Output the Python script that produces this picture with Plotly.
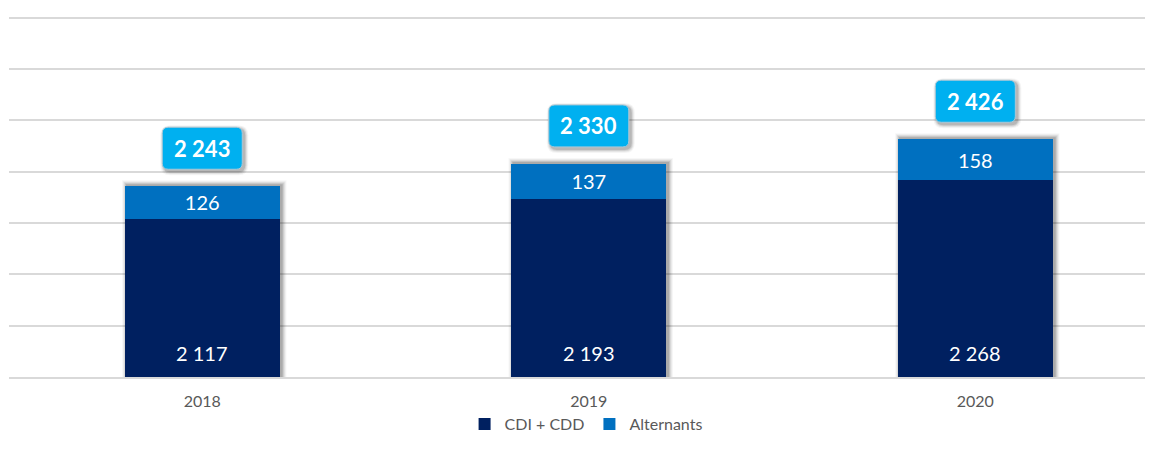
import plotly.graph_objs as go

# Chart data
years = ['2018', '2019', '2020']
cdi_cdd = [2117, 2193, 2268]
alternants = [126, 137, 158]
totals = [2243, 2330, 2426]

y_min, y_max, y_step = 1500, 2910, 200
bar_width = 0.4

navy = '#002060'
blue = '#0070C0'
cyan = '#00B0F0'
font = 'Lato'


def fmt(v):
    return f"{v:,}".replace(',', ' ')


fig = go.Figure()

fig.add_trace(go.Bar(
    x=years, y=cdi_cdd, name='CDI + CDD',
    marker=dict(color=navy, line=dict(width=0)),
    width=bar_width,
))
fig.add_trace(go.Bar(
    x=years, y=alternants, name='Alternants',
    marker=dict(color=blue, line=dict(width=0)),
    width=bar_width,
    text=[fmt(v) for v in alternants],
    textposition='inside', insidetextanchor='middle', textangle=0,
    textfont=dict(family=font, size=20, color='white'),
    constraintext='none',
))

shapes = []
annotations = []

# pixels per data unit (plot is 362 px tall, one category is ~386.5 px wide)
py = 362 / (y_max - y_min)
px = 386.5

for i, (tot, base_v) in enumerate(zip(totals, cdi_cdd)):
    # soft shadow behind the stacked bar
    for k, op in zip(range(1, 6), [0.12, 0.10, 0.07, 0.05, 0.03]):
        shapes.append(dict(
            type='rect', xref='x', yref='y', layer='between',
            x0=i - bar_width / 2 + (2 - k) / px, x1=i + bar_width / 2 + (2 + k) / px,
            y0=y_min, y1=tot + (k + 1) / py,
            fillcolor=f'rgba(0,0,0,{op})', line=dict(width=0),
        ))

    # rounded label box above the bar, with a shadow
    w, h, r = 40, 21, 6
    yc = 38

    def rounded(dx, dy, grow):
        x0, x1 = -w - grow + dx, w + grow + dx
        y0, y1 = yc - h - grow + dy, yc + h + grow + dy
        rr = r + grow
        return (f"M {x0 + rr},{y0} L {x1 - rr},{y0} Q {x1},{y0} {x1},{y0 + rr} "
                f"L {x1},{y1 - rr} Q {x1},{y1} {x1 - rr},{y1} "
                f"L {x0 + rr},{y1} Q {x0},{y1} {x0},{y1 - rr} "
                f"L {x0},{y0 + rr} Q {x0},{y0} {x0 + rr},{y0} Z")

    for k, op in zip(range(1, 5), [0.12, 0.09, 0.06, 0.04]):
        shapes.append(dict(
            type='path', xref='x', yref='y',
            xsizemode='pixel', ysizemode='pixel', xanchor=i, yanchor=tot,
            path=rounded(2, -2, k), fillcolor=f'rgba(0,0,0,{op})',
            line=dict(width=0), layer='above',
        ))
    shapes.append(dict(
        type='path', xref='x', yref='y',
        xsizemode='pixel', ysizemode='pixel', xanchor=i, yanchor=tot,
        path=rounded(0, 0, 0), fillcolor=cyan,
        line=dict(color='rgba(170,200,215,1)', width=1), layer='above',
    ))
    annotations.append(dict(
        xref='x', yref='y', x=i, y=tot, yshift=yc,
        text=f"<b>{fmt(tot)}</b>", showarrow=False,
        font=dict(family=font, size=22, color='white'),
        xanchor='center', yanchor='middle',
    ))
    annotations.append(dict(
        xref='x', yref='y', x=i, y=y_min, yshift=24,
        text=fmt(base_v), showarrow=False,
        font=dict(family=font, size=20, color='white'),
        xanchor='center', yanchor='middle',
    ))

fig.update_layout(
    barmode='stack',
    width=1137, height=434,
    margin=dict(l=1, r=0, t=7, b=65),
    paper_bgcolor='white', plot_bgcolor='white',
    font=dict(family=font, size=16, color='#595959'),
    shapes=shapes, annotations=annotations,
    legend=dict(orientation='h', x=0.508, xanchor='center', y=-0.177, yanchor='bottom',
                font=dict(family=font, size=16, color='#595959'),
                itemwidth=30, traceorder='normal'),
    showlegend=True,
)
fig.update_xaxes(type='category', range=[-0.5, 2.439], showgrid=False, showline=True,
                 linecolor='#D9D9D9', linewidth=1.5, ticks='', ticklabelstandoff=9,
                 tickfont=dict(family=font, size=16, color='#595959'))
fig.update_yaxes(range=[y_min, y_max], dtick=y_step, tick0=y_min, showticklabels=False,
                 showgrid=True, gridcolor='#D9D9D9', gridwidth=1.5, zeroline=False)

fig.write_html("out.html")
